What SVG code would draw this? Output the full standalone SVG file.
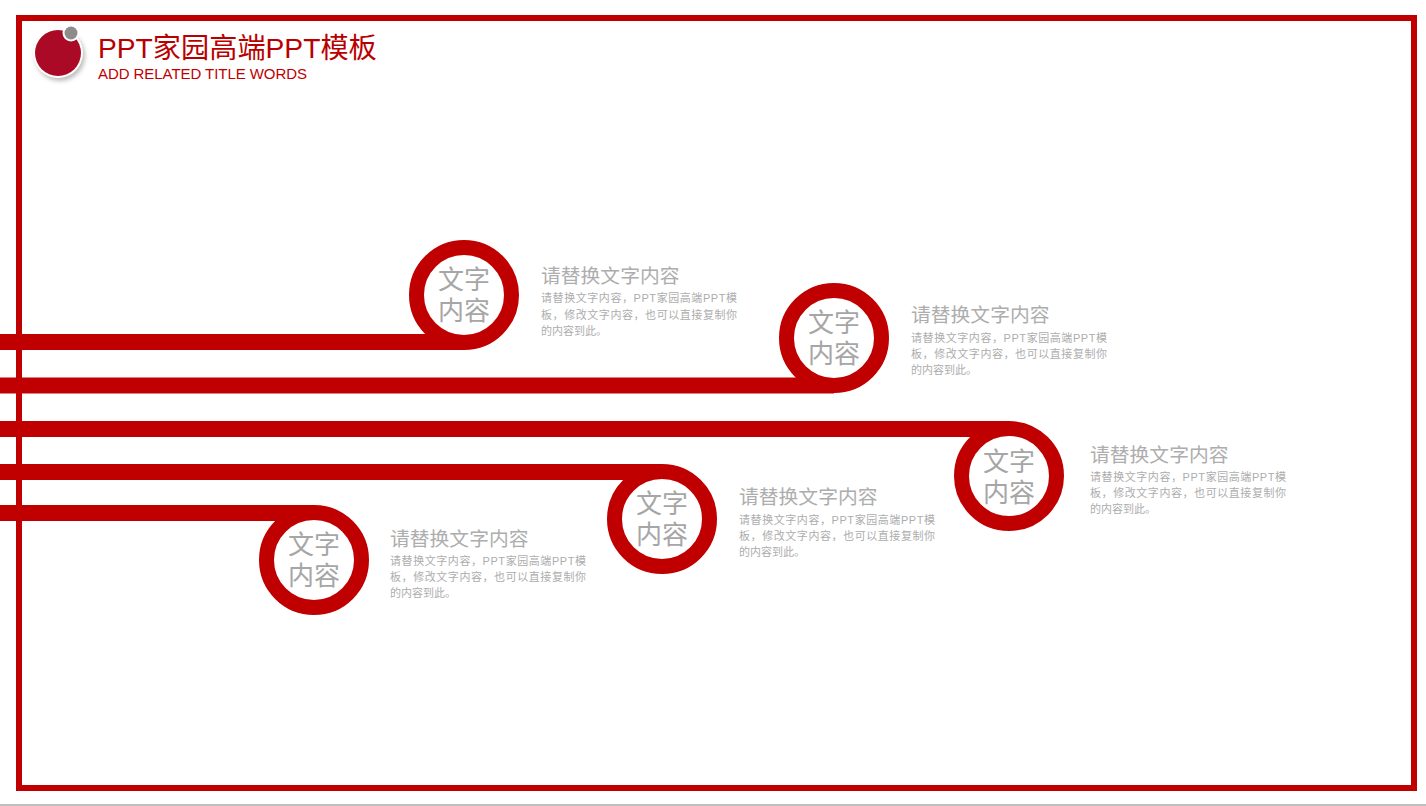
<svg xmlns="http://www.w3.org/2000/svg" width="1426" height="806" viewBox="0 0 1426 806">
<defs>
<filter id="sh" x="-30%" y="-30%" width="170%" height="170%"><feGaussianBlur stdDeviation="2"/></filter>
</defs>
<style>
text{font-family:"Liberation Sans","Noto Sans CJK SC",sans-serif}
.c{fill:none;stroke:#c00000;stroke-width:16}
.r{fill:#fff;stroke:#c00000;stroke-width:15}
.n{font-size:26px;fill:#a6a6a6;text-anchor:middle}
.h{font-size:19.800px;fill:#adadad}
.b{font-size:11px;fill:#adadad}
</style>
<rect width="1426" height="806" fill="#fff"/>
<rect x="0" y="804" width="1426" height="2" fill="#bfbfbf"/>
<rect id="frame" x="19" y="18" width="1395" height="770" fill="none" stroke="#c00000" stroke-width="6"/>
<g id="connectors">
<path class="c" d="M0 342H464"/>
<path class="c" d="M0 385.500H834"/>
<path class="c" d="M0 429H1009"/>
<path class="c" d="M0 472H662"/>
<path class="c" d="M0 513H314"/>
</g>
<g id="logo">
<circle cx="60" cy="56" r="25" fill="#888" opacity=".55" filter="url(#sh)"/>
<circle cx="58" cy="53" r="25" fill="#fff"/>
<circle cx="58" cy="53" r="23" fill="#ab0a26"/>
<circle cx="71" cy="33" r="8.500" fill="#fff"/>
<circle cx="71" cy="33" r="6.500" fill="#8c8c8c"/>
</g>
<g id="title">
<text x="98" y="58" font-size="28.200" fill="#b90000">PPT家园高端PPT模板</text>
<text x="98" y="79" font-size="15" textLength="209" fill="#c00000">ADD RELATED TITLE WORDS</text>
</g>
<g id="node1">
<circle class="r" cx="464" cy="295" r="47.500"/>
<text class="n" x="464" y="289">文字</text><text class="n" x="464" y="320">内容</text>
<text class="h" x="541" y="283">请替换文字内容</text>
<text class="b" x="541" y="302" textLength="196">请替换文字内容，PPT家园高端PPT模</text>
<text class="b" x="541" y="319" textLength="196">板，修改文字内容，也可以直接复制你</text>
<text class="b" x="541" y="335">的内容到此。</text>
</g>
<g id="node2">
<circle class="r" cx="834" cy="338" r="47.500"/>
<text class="n" x="834" y="332">文字</text><text class="n" x="834" y="363">内容</text>
<text class="h" x="911" y="322">请替换文字内容</text>
<text class="b" x="911" y="342" textLength="196">请替换文字内容，PPT家园高端PPT模</text>
<text class="b" x="911" y="358" textLength="196">板，修改文字内容，也可以直接复制你</text>
<text class="b" x="911" y="374">的内容到此。</text>
</g>
<g id="node3">
<circle class="r" cx="1009" cy="476" r="47.500"/>
<text class="n" x="1009" y="471">文字</text><text class="n" x="1009" y="502">内容</text>
<text class="h" x="1090" y="462">请替换文字内容</text>
<text class="b" x="1090" y="481" textLength="196">请替换文字内容，PPT家园高端PPT模</text>
<text class="b" x="1090" y="497" textLength="196">板，修改文字内容，也可以直接复制你</text>
<text class="b" x="1090" y="513">的内容到此。</text>
</g>
<g id="node4">
<circle class="r" cx="662" cy="519" r="47.500"/>
<text class="n" x="662" y="513">文字</text><text class="n" x="662" y="544">内容</text>
<text class="h" x="739" y="504">请替换文字内容</text>
<text class="b" x="739" y="524" textLength="196">请替换文字内容，PPT家园高端PPT模</text>
<text class="b" x="739" y="540" textLength="196">板，修改文字内容，也可以直接复制你</text>
<text class="b" x="739" y="556">的内容到此。</text>
</g>
<g id="node5">
<circle class="r" cx="314" cy="560" r="47.500"/>
<text class="n" x="314" y="554">文字</text><text class="n" x="314" y="585">内容</text>
<text class="h" x="390" y="546">请替换文字内容</text>
<text class="b" x="390" y="565" textLength="196">请替换文字内容，PPT家园高端PPT模</text>
<text class="b" x="390" y="581" textLength="196">板，修改文字内容，也可以直接复制你</text>
<text class="b" x="390" y="597">的内容到此。</text>
</g>
</svg>
